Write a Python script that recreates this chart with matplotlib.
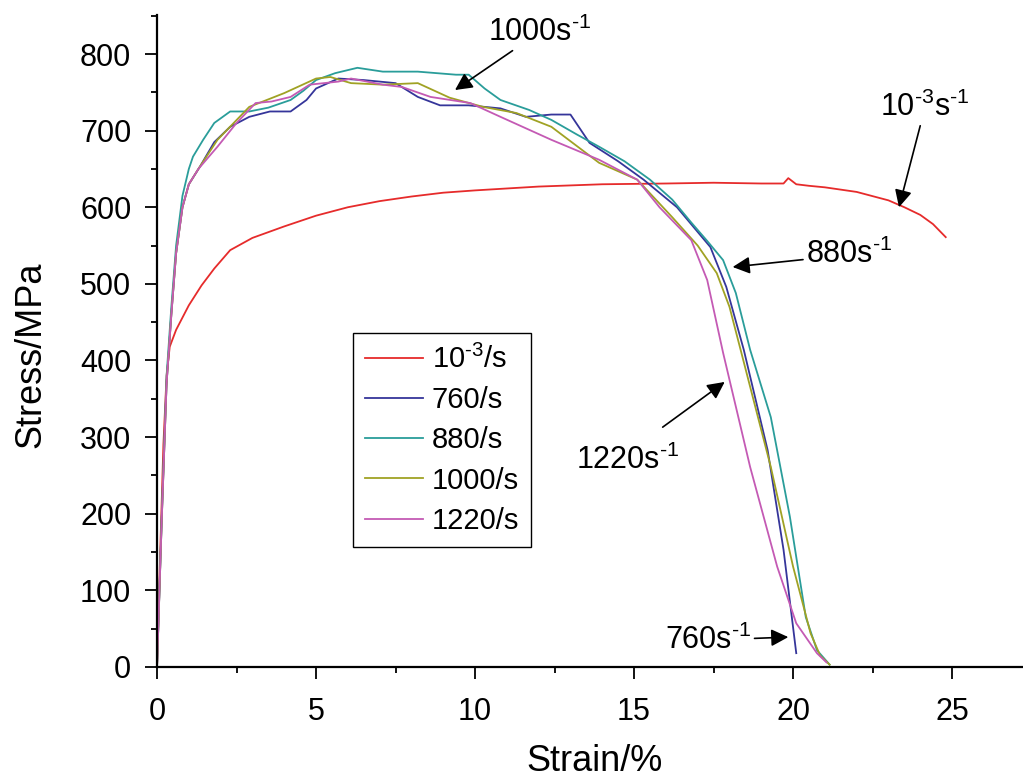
import matplotlib
matplotlib.use('Agg')
import matplotlib.pyplot as plt
from matplotlib.ticker import MultipleLocator

plt.rcParams['font.family'] = ['Liberation Sans', 'DejaVu Sans']
plt.rcParams['mathtext.fontset'] = 'custom'
plt.rcParams['mathtext.rm'] = 'Liberation Sans'
plt.rcParams['mathtext.default'] = 'regular'

# quasi-static 10^-3/s
x_qs = [0, 0.1, 0.2, 0.3, 0.4, 0.6, 1.0, 1.4, 1.8, 2.3, 3, 4, 5, 6, 7, 8, 9, 10, 12, 14, 16, 17.5,
        19, 19.7, 19.85, 20.1, 20.5, 21, 22, 23, 23.5, 24, 24.4, 24.8]
s_qs = [0, 150, 290, 380, 418, 440, 472, 498, 520, 544, 560, 575, 589, 600, 608, 614, 619, 622, 627, 630, 631, 632,
        631, 631, 638, 630, 628, 626, 620, 609, 600, 590, 578, 561]

# 760/s
x_760 = [0, 0.15, 0.3, 0.45, 0.6, 0.8, 1.0, 1.35, 1.8, 2.3, 2.9, 3.55, 4.2, 4.7, 5.0, 5.7, 6.5, 7.5, 8.2, 8.9,
         9.8, 10.8, 11.6, 12.4, 13.0, 13.6, 14.5, 15.3, 16.35, 17.4, 17.9, 18.45, 19.2, 19.7, 20.1]
s_760 = [0, 195, 370, 460, 540, 600, 630, 653, 685, 705, 718, 725, 725, 740, 755, 768, 766, 762, 744, 733,
         733, 729, 718, 721, 721, 684, 660, 636, 600, 548, 496, 414, 283, 153, 18]

# 880/s
x_880 = [0, 0.15, 0.3, 0.45, 0.6, 0.8, 1.0, 1.13, 1.45, 1.8, 2.3, 2.9, 3.5, 4.2, 4.6, 5.0, 5.6, 6.3, 7.1, 8.2,
         9.4, 9.8, 10.3, 10.8, 11.7, 12.4, 13.2, 13.9, 14.7, 15.5, 16.2, 16.8, 17.3, 17.8, 18.2, 18.65, 19.3,
         19.9, 20.4, 20.75, 21.15]
s_880 = [0, 200, 380, 470, 550, 615, 650, 666, 688, 710, 725, 725, 730, 740, 752, 766, 775, 782, 777, 777,
         773, 773, 755, 740, 727, 714, 695, 679, 660, 636, 610, 580, 556, 531, 488, 414, 326,
         196, 65, 22, 3]

# 1000/s
x_1000 = [0, 0.15, 0.3, 0.45, 0.6, 0.8, 1.0, 1.3, 1.9, 2.9, 4.0, 5.0, 5.45, 6.1, 7.1, 8.2, 9.2, 10.25, 11.3,
          12.4, 13.9, 15.1, 16.2, 17.0, 17.6, 18.0, 18.35, 19.3, 20.0, 20.55, 20.85, 21.15]
s_1000 = [0, 195, 370, 460, 540, 600, 630, 650, 688, 731, 749, 768, 770, 762, 760, 762, 743, 731, 723,
          705, 658, 636, 587, 550, 514, 470, 414, 261, 131, 44, 15, 3]

# 1220/s
x_1220 = [0, 0.15, 0.3, 0.45, 0.6, 0.8, 1.0, 1.3, 1.9, 2.5, 3.1, 3.6, 4.2, 4.8, 5.7, 6.1, 7.1, 7.7, 8.6, 9.85,
          10.8, 12.4, 13.9, 15.1, 15.8, 16.8, 17.3, 17.8, 18.65, 19.5, 20.1, 20.75, 21.05]
s_1220 = [0, 195, 370, 460, 540, 600, 630, 650, 679, 710, 736, 738, 744, 760, 764, 768, 760, 757, 744, 736,
          718, 688, 662, 636, 600, 557, 505, 410, 261, 131, 57, 18, 6]

labels = ['10$^{\\text{-3}}$/s', '760/s', '880/s', '1000/s', '1220/s']
colors = ['#e62b2b', '#35359a', '#2a9d9a', '#a0a224', '#c45ab4']

fig = plt.figure(figsize=(10.23, 7.82), dpi=100)
ax = fig.add_axes([0.1535, 0.1471, 0.8465, 0.8338])

series = [(x_qs, s_qs), (x_760, s_760), (x_880, s_880), (x_1000, s_1000), (x_1220, s_1220)]
for (xs, ys), lab, c in zip(series, labels, colors):
    ax.plot(xs, ys, color=c, lw=1.3, label=lab)

ax.set_xlim(0, 27.23)
ax.set_ylim(0, 851)
ax.spines['top'].set_visible(False)
ax.spines['right'].set_visible(False)
for sp in ['left', 'bottom']:
    ax.spines[sp].set_linewidth(1.6)

ax.xaxis.set_major_locator(MultipleLocator(5))
ax.xaxis.set_minor_locator(MultipleLocator(2.5))
ax.yaxis.set_major_locator(MultipleLocator(100))
ax.yaxis.set_minor_locator(MultipleLocator(50))
ax.tick_params(which='major', direction='out', length=8.5, width=1.3, labelsize=22, pad=10)
ax.tick_params(axis='x', which='major', pad=13)
ax.tick_params(which='minor', direction='out', length=4.5, width=1.3)

ax.set_xlabel('Strain/%', fontsize=26)
ax.set_ylabel('Stress/MPa', fontsize=26)
ax.xaxis.set_label_coords(0.505, -0.118)
ax.yaxis.set_label_coords(-0.125, 0.479)

leg = ax.legend(loc='upper left', bbox_to_anchor=(353 / 1023, 1 - 333 / 782),
                bbox_transform=fig.transFigure, fontsize=21, frameon=True, fancybox=False,
                edgecolor='black', framealpha=1, handlelength=2.0, handletextpad=0.3,
                labelspacing=0.42, borderpad=0.4, borderaxespad=0)
leg.get_frame().set_linewidth(1.0)

arrow = dict(arrowstyle='-|>', color='black', lw=1.2, mutation_scale=26, shrinkA=0, shrinkB=0)
ax.annotate('1000s$^{\\text{-1}}$', xy=(9.37, 753), xytext=(10.4, 808), arrowprops=arrow,
            fontsize=22, ha='left', va='bottom')
ax.annotate('10$^{\\text{-3}}$s$^{\\text{-1}}$', xy=(23.33, 600), xytext=(24.15, 710), arrowprops=arrow,
            fontsize=22, ha='center', va='bottom')
ax.annotate('880s$^{\\text{-1}}$', xy=(18.1, 522), xytext=(20.4, 538), arrowprops=arrow,
            fontsize=22, ha='left', va='center')
ax.annotate('', xy=(17.85, 372), xytext=(15.9, 313), arrowprops=arrow)
ax.text(14.8, 270, '1220s$^{\\text{-1}}$', fontsize=22, ha='center', va='center')
ax.annotate('760s$^{\\text{-1}}$', xy=(19.85, 39), xytext=(18.7, 35), arrowprops=arrow,
            fontsize=22, ha='right', va='center')

fig.savefig('out.png', dpi=100)
